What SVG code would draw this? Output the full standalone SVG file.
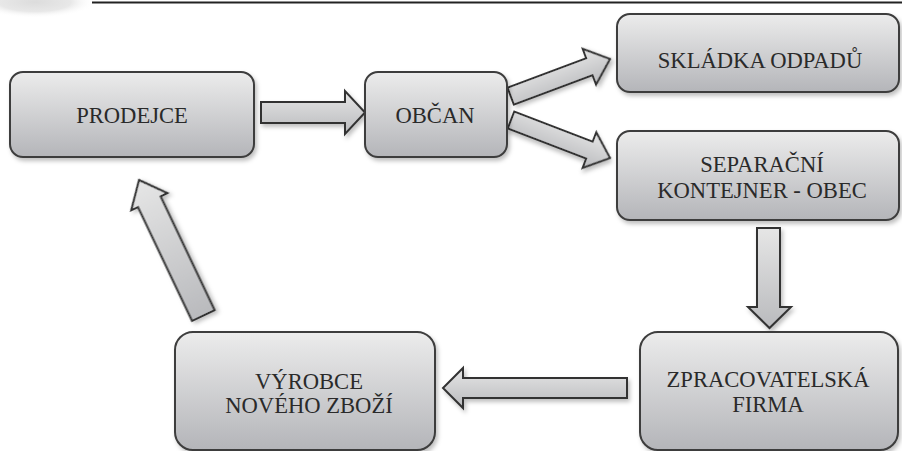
<svg xmlns="http://www.w3.org/2000/svg" width="902" height="451" viewBox="0 0 902 451">
<defs>
<linearGradient id="g" x1="0" y1="0" x2="0" y2="1">
<stop offset="0" stop-color="#ececec"/>
<stop offset="1" stop-color="#b4b5b9"/>
</linearGradient>
<linearGradient id="ga" x1="0" y1="0" x2="0" y2="1">
<stop offset="0" stop-color="#e6e6e6"/>
<stop offset="1" stop-color="#b9babd"/>
</linearGradient>
<radialGradient id="blob" cx="0.5" cy="0.5" r="0.5">
<stop offset="0" stop-color="#dcdcdc"/>
<stop offset="0.6" stop-color="#e8e8e8"/>
<stop offset="1" stop-color="#ffffff" stop-opacity="0"/>
</radialGradient>
<filter id="sh" x="-10%" y="-10%" width="130%" height="140%">
<feDropShadow dx="2" dy="3" stdDeviation="2" flood-color="#000" flood-opacity="0.25"/>
</filter>
<style>
.box{fill:url(#g);stroke:#3c3c3c;stroke-width:2;filter:url(#sh)}
.arr{fill:url(#ga);stroke:#333;stroke-width:2;stroke-linejoin:miter;filter:url(#sh)}
.t{font-family:"Liberation Serif","Times New Roman",serif;font-size:22.6px;fill:#2a2a2a;text-anchor:middle}
</style>
</defs>
<rect width="902" height="451" fill="#fff"/>
<ellipse cx="35" cy="2" rx="60" ry="16" fill="url(#blob)"/>
<line x1="92" y1="2.5" x2="902" y2="2.5" stroke="#222" stroke-width="2"/>

<g id="connectors">
<path class="arr" d="M261,102 H345 V91 L365,112.5 L345,134 V123 H261 Z"/>
<path class="arr" transform="translate(610,59) rotate(-20.5)" d="M0,0 L-22,-19 V-9 H-106 V9 H-22 V19 Z"/>
<path class="arr" transform="translate(610,158) rotate(21)" d="M0,0 L-22,-19 V-9 H-106 V9 H-22 V19 Z"/>
<path class="arr" d="M757,228 V307 H748 L769.5,328 L791,307 H780 V228 Z"/>
<path class="arr" d="M627,378 H463 V368 L443,388 L463,408 V398 H627 Z"/>
<path class="arr" transform="translate(139,180) rotate(-25.4)" d="M0,0 L20,24 H12.5 V150 H-12.5 V24 H-20 Z"/>
</g>

<g id="prodejce">
<rect class="box" x="10" y="72" width="244" height="85" rx="13"/>
<text class="t" x="132" y="123">PRODEJCE</text>
</g>
<g id="obcan">
<rect class="box" x="365" y="72" width="142" height="85" rx="13"/>
<text class="t" x="435" y="123">OBČAN</text>
</g>
<g id="skladka">
<rect class="box" x="617" y="14" width="282" height="78" rx="13"/>
<text class="t" x="760" y="68">SKLÁDKA ODPADŮ</text>
</g>
<g id="separacni">
<rect class="box" x="617" y="131" width="282" height="89" rx="13"/>
<text class="t" x="762" y="172">SEPARAČNÍ</text>
<text class="t" x="762" y="198">KONTEJNER - OBEC</text>
</g>
<g id="zpracovatelska">
<rect class="box" x="640" y="332" width="258" height="118" rx="18"/>
<text class="t" x="768" y="387">ZPRACOVATELSKÁ</text>
<text class="t" x="768" y="412">FIRMA</text>
</g>
<g id="vyrobce">
<rect class="box" x="175" y="332" width="260" height="118" rx="18"/>
<text class="t" x="309" y="389">VÝROBCE</text>
<text class="t" x="309" y="413">NOVÉHO ZBOŽÍ</text>
</g>
</svg>
